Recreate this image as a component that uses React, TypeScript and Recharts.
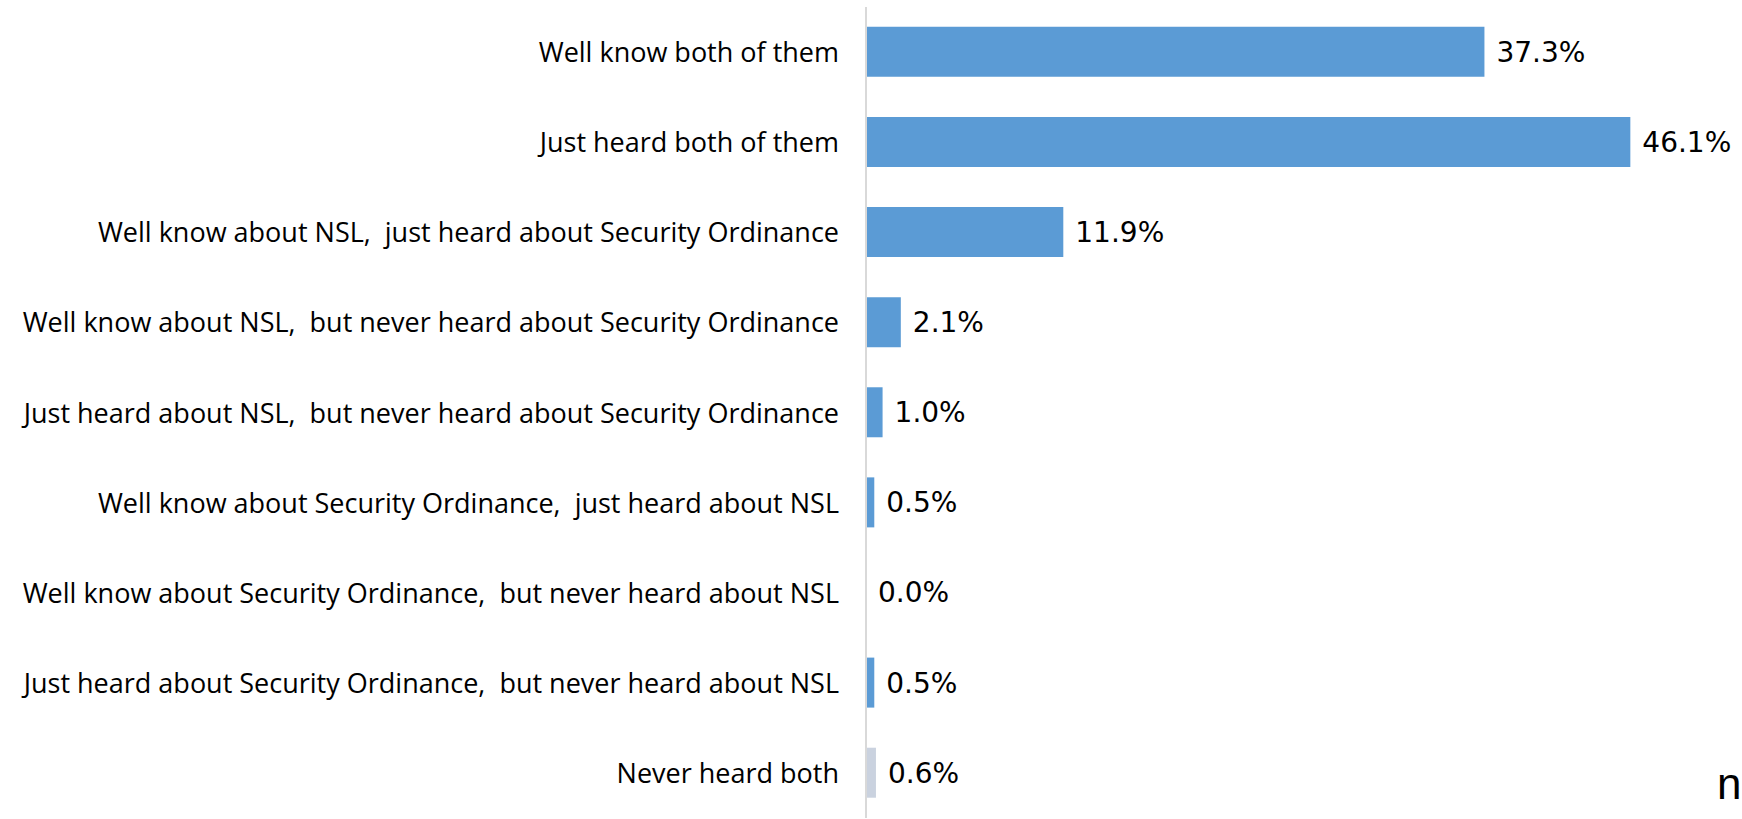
import { BarChart, Bar, XAxis, YAxis, Cell, LabelList } from "recharts";

const categories = [
  "Well know both of them",
  "Just heard both of them",
  "Well know about NSL,  just heard about Security Ordinance",
  "Well know about NSL,  but never heard about Security Ordinance",
  "Just heard about NSL,  but never heard about Security Ordinance",
  "Well know about Security Ordinance,  just heard about NSL",
  "Well know about Security Ordinance,  but never heard about NSL",
  "Just heard about Security Ordinance,  but never heard about NSL",
  "Never heard both",
];

const shares = [37.3, 46.1, 11.9, 2.1, 1.0, 0.5, 0.0, 0.5, 0.6];

const BLUE = "#5B9BD5";
const GREY = "#CAD2DF";
const VALUE_FONT = "'DejaVu Sans', Verdana, sans-serif";
const CAT_FONT = "'Open Sans', 'DejaVu Sans', sans-serif";

const data = categories.map((name, i) => ({ name, value: shares[i] }));

const CategoryTick = ({ x, y, payload }: any) => (
  <text
    x={x - 19}
    y={y}
    dy={10}
    textAnchor="end"
    fill="#000"
    fontSize={27}
    fontFamily={CAT_FONT}
    style={{ whiteSpace: "pre" }}
  >
    {payload.value}
  </text>
);

// drawn by hand so that the 0.0% row gets its label too
const ValueLabel = (props: any) => {
  const { x, y, width, height, value } = props;
  return (
    <text
      x={Number(x) + Number(width) + 12}
      y={Number(y) + Number(height) / 2}
      dy={10}
      fill="#000"
      fontSize={28}
      fontFamily={VALUE_FONT}
    >
      {`${Number(value).toFixed(1)}%`}
    </text>
  );
};

export default function App() {
  return (
    <div style={{ position: "absolute", left: 0, top: 0, width: 1742, height: 819, background: "#fff" }}>
      <BarChart
        width={1742}
        height={819}
        data={data}
        layout="vertical"
        margin={{ top: 7, right: 47, bottom: 1, left: 0 }}
        barCategoryGap="22%"
      >
        <XAxis type="number" domain={[0, 50]} hide />
        <YAxis
          type="category"
          dataKey="name"
          width={866}
          tickLine={false}
          axisLine={{ stroke: "#D9D9D9", strokeWidth: 2 }}
          tick={<CategoryTick />}
          interval={0}
        />
        {/* tiny minPointSize keeps the 0.0% row (and its label) in the bar list */}
        <Bar dataKey="value" minPointSize={0.01} isAnimationActive={false}>
          {data.map((d, i) => (
            <Cell key={i} fill={i === data.length - 1 ? GREY : BLUE} />
          ))}
          <LabelList dataKey="value" content={<ValueLabel />} />
        </Bar>
      </BarChart>
      <div
        style={{
          position: "absolute",
          left: 1717,
          top: 759,
          fontFamily: "'Liberation Sans', Arial, sans-serif",
          fontSize: 44,
          lineHeight: "50px",
          color: "#000",
        }}
      >
        n
      </div>
    </div>
  );
}
